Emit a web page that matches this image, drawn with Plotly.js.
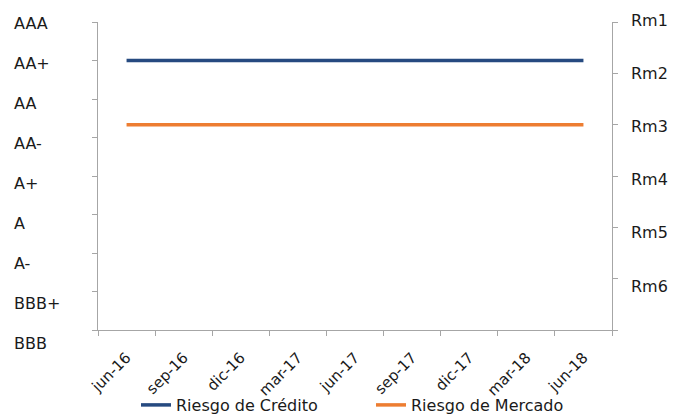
<!DOCTYPE html>
<html>
<head>
<meta charset="utf-8">
<script src="https://cdn.plot.ly/plotly-3.0.1.min.js"></script>
<style>html,body{margin:0;padding:0;background:#fff;}#chart{width:685px;height:414px;}</style>
</head>
<body>
<div id="chart"></div>
<script>
// Quarter labels (x axis)
var quarters = ['jun-16','sep-16','dic-16','mar-17','jun-17','sep-17','dic-17','mar-18','jun-18'];
// Credit rating scale, bottom to top (left axis)
var creditScale = ['BBB','BBB+','A-','A','A+','AA-','AA','AA+','AAA'];
// Market risk scale, bottom to top (right axis)
var marketScale = ['Rm6','Rm5','Rm4','Rm3','Rm2','Rm1'];
// Series values
var riesgoCredito = ['AA+','AA+','AA+','AA+','AA+','AA+','AA+','AA+','AA+'];
var riesgoMercado = ['Rm3','Rm3','Rm3','Rm3','Rm3','Rm3','Rm3','Rm3','Rm3'];

var FONT = '"DejaVu Sans", "Open Sans", sans-serif';
var TXT = '#1a1a1a';
var AX = '#a6a6a6';
var FS = 16;

var traces = [
  {x: quarters, y: riesgoCredito, type: 'scatter', mode: 'lines', name: 'Riesgo de Crédito',
   line: {color: '#264A80', width: 3.5}, xaxis: 'x', yaxis: 'y', hoverinfo: 'skip'},
  {x: quarters, y: riesgoMercado, type: 'scatter', mode: 'lines', name: 'Riesgo de Mercado',
   line: {color: '#ED7D31', width: 3.5}, xaxis: 'x', yaxis: 'y2', hoverinfo: 'skip'},
  // invisible helpers so the label-only axes are drawn
  {x: creditScale.map(function(){return quarters[0];}), y: creditScale, type: 'scatter', mode: 'markers',
   marker: {opacity: 0, size: 1}, showlegend: false, hoverinfo: 'skip', xaxis: 'x', yaxis: 'y3'},
  {x: marketScale.map(function(){return quarters[0];}), y: marketScale, type: 'scatter', mode: 'markers',
   marker: {opacity: 0, size: 1}, showlegend: false, hoverinfo: 'skip', xaxis: 'x', yaxis: 'y4'},
  {x: quarters, y: riesgoCredito, type: 'scatter', mode: 'markers',
   marker: {opacity: 0, size: 1}, showlegend: false, hoverinfo: 'skip', xaxis: 'x2', yaxis: 'y'}
];

var L = 10, R = 10, T = 10, B = 64;
var W = 685 - L - R, H = 414 - T - B;
function px2x(p){ return (p - L) / W; }
function py2y(p){ return (414 - B - p) / H; }

var layout = {
  width: 685, height: 414,
  margin: {l: L, r: R, t: T, b: B, pad: 0, autoexpand: false},
  paper_bgcolor: '#fff', plot_bgcolor: 'rgba(0,0,0,0)',
  font: {family: FONT, size: FS, color: TXT},
  showlegend: true,
  legend: {orientation: 'h', x: px2x(136), xanchor: 'left', y: py2y(405), yanchor: 'middle',
           font: {family: FONT, size: FS, color: TXT}, entrywidth: 190, bgcolor: 'rgba(0,0,0,0)'},
  xaxis: {type: 'category', categoryorder: 'array', categoryarray: quarters, range: [-0.5, 8.5],
          domain: [px2x(98), px2x(612)], anchor: 'y', tickson: 'boundaries',
          ticks: 'outside', ticklen: 5, tickcolor: AX, tickwidth: 1,
          showline: true, linecolor: AX, linewidth: 1, showgrid: false, zeroline: false,
          showticklabels: false},
  xaxis2: {type: 'category', categoryorder: 'array', categoryarray: quarters, range: [-0.5, 8.5],
           domain: [px2x(98), px2x(612)], anchor: 'free', position: py2y(345), side: 'bottom',
           ticks: '', showline: false, showgrid: false, zeroline: false,
           tickangle: -45, tickfont: {family: FONT, size: 15, color: TXT}},
  yaxis: {type: 'category', categoryorder: 'array', categoryarray: creditScale, range: [0, 8],
          domain: [py2y(330), py2y(22)], anchor: 'x', side: 'left',
          ticks: 'outside', ticklen: 5, tickcolor: AX, tickwidth: 1,
          showline: true, linecolor: AX, linewidth: 1, showgrid: false, zeroline: false,
          showticklabels: false},
  yaxis2: {type: 'category', categoryorder: 'array', categoryarray: marketScale, range: [-1, 5],
           overlaying: 'y', anchor: 'x', side: 'right',
           tickmode: 'array', tickvals: [-1, 0, 1, 2, 3, 4, 5],
           ticks: 'outside', ticklen: 5, tickcolor: AX, tickwidth: 1,
           showline: true, linecolor: AX, linewidth: 1, showgrid: false, zeroline: false,
           showticklabels: false},
  yaxis3: {type: 'category', categoryorder: 'array', categoryarray: creditScale,
           range: [-0.175, 8.325], domain: [0, 1], anchor: 'free', position: 0, side: 'left',
           ticklabelposition: 'inside', ticklabeloverflow: 'allow',
           ticks: '', showline: false, showgrid: false, zeroline: false,
           tickfont: {family: FONT, size: FS, color: TXT}},
  yaxis4: {type: 'category', categoryorder: 'array', categoryarray: marketScale,
           range: [-1.203, 5.188], domain: [0, 1], anchor: 'free', position: px2x(612), side: 'right',
           ticks: '', showline: false, showgrid: false, zeroline: false, ticklabelstandoff: 18,
           ticklabeloverflow: 'allow',
           tickfont: {family: FONT, size: FS, color: TXT}}
};

Plotly.newPlot('chart', traces, layout, {staticPlot: true, displayModeBar: false});
</script>
</body>
</html>
